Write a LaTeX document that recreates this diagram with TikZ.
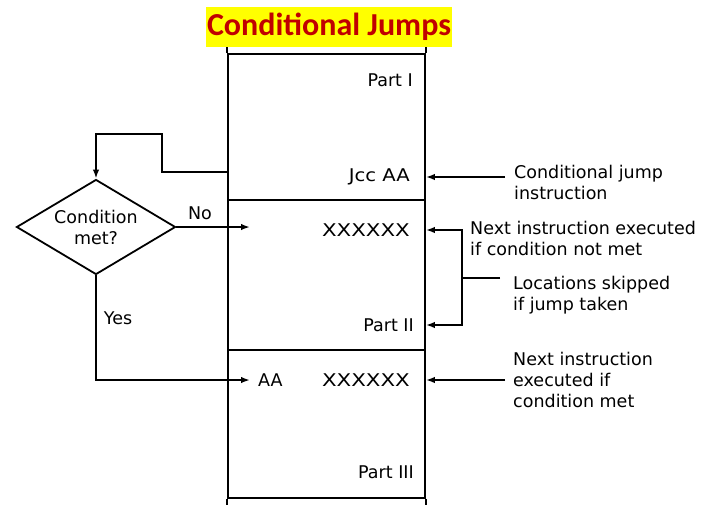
\documentclass[tikz,border=0pt]{standalone}
\usepackage{fontspec}
\usetikzlibrary{shapes.geometric,arrows.meta}
\newfontfamily\labfont{DejaVu Sans}
\newfontfamily\titlefont{Carlito}
\definecolor{ttlred}{RGB}{192,0,0}
\definecolor{ttlyellow}{RGB}{255,255,0}
\begin{document}
\begin{tikzpicture}[x=1pt,y=-1pt,
  ln/.style={line width=1.8pt},
  arr/.style={ln,-{Latex[length=9pt,width=6.5pt]}},
  lbl/.style={font=\labfont\fontsize{17.5}{21}\selectfont,inner sep=0pt},
  seg/.style={draw,ln,minimum width=197pt,inner sep=0pt},
  ttl/.style={fill=ttlyellow,text=ttlred,font=\titlefont\bfseries\fontsize{32}{32}\selectfont,inner xsep=1pt,inner ysep=0pt,minimum height=40pt}
]
\useasboundingbox (0,0) rectangle (703,504);
% memory segments
\node[seg,minimum height=146pt] (p1) at (326.5,127) {};
\node[seg,minimum height=150pt] (p2) at (326.5,275) {};
\node[seg,minimum height=148pt] (p3) at (326.5,424) {};
\draw[ln] (p1.north west) -- ++(0,-8);
\draw[ln] (p1.north east) -- ++(0,-8);
\draw[ln] (p3.south west) -- ++(0,7);
\draw[ln] (p3.south east) -- ++(0,7);
% texts inside memory
\node[lbl,anchor=east] (part1) at (413,80) {Part I};
\node[lbl,anchor=east] (jcc) at (410,177) {\scalebox{1.12}[1]{Jcc AA}};
\node[lbl,anchor=east] (x1) at (410,230) {\scalebox{1.22}[1]{XXXXXX}};
\node[lbl,anchor=east] (part2) at (414,325) {Part II};
\node[lbl,anchor=east] (x2) at (410,380) {\scalebox{1.22}[1]{XXXXXX}};
\node[lbl,anchor=west] (aa) at (258,380) {AA};
\node[lbl,anchor=east] (part3) at (414,472) {Part III};
% decision
\node[diamond,draw,ln,lbl,align=center,minimum width=159pt,minimum height=95pt,aspect=1.67] (cond) at (96,227) {Condition\\met?};
\coordinate (jout) at (p1.west |- 0,172);
\coordinate (bendx) at (162,134);
\draw[arr] (jout) -| (bendx) -| (cond.north);
\coordinate (noend) at (250,227);
\draw[arr] (cond.east) -- (noend);
\node[lbl] (no) at (200,213) {No};
\draw[arr] (cond.south) |- ([xshift=-8pt]aa.west);
\node[lbl] (yes) at (118,318) {Yes};
% right annotations
\node[lbl,anchor=west,align=left] (cj) at (514,182) {Conditional jump\\instruction};
\coordinate (cjtail) at (505,177);
\draw[arr] (cjtail) -- (p1.east |- jcc);
\node[lbl,anchor=west,align=left] (nx) at (470,238) {Next instruction executed\\if condition not met};
\coordinate (brk) at (462,278);
\coordinate (brktail) at (500,278);
\draw[ln] (brktail) -- (brk);
\draw[arr] (brk) |- (p2.east |- x1);
\draw[arr] (brk) |- (p2.east |- part2);
\node[lbl,anchor=west,align=left] (ls) at (513,295) {Locations skipped\\if jump taken};
\node[lbl,anchor=west,align=left] (nm) at (513,380) {Next instruction\\executed if\\condition met};
\coordinate (nmtail) at (505,380);
\draw[arr] (nmtail) -- (p3.east |- x2);
% title
\node[ttl] (title) at (329,27) {Conditional Jumps};
\end{tikzpicture}
\end{document}
